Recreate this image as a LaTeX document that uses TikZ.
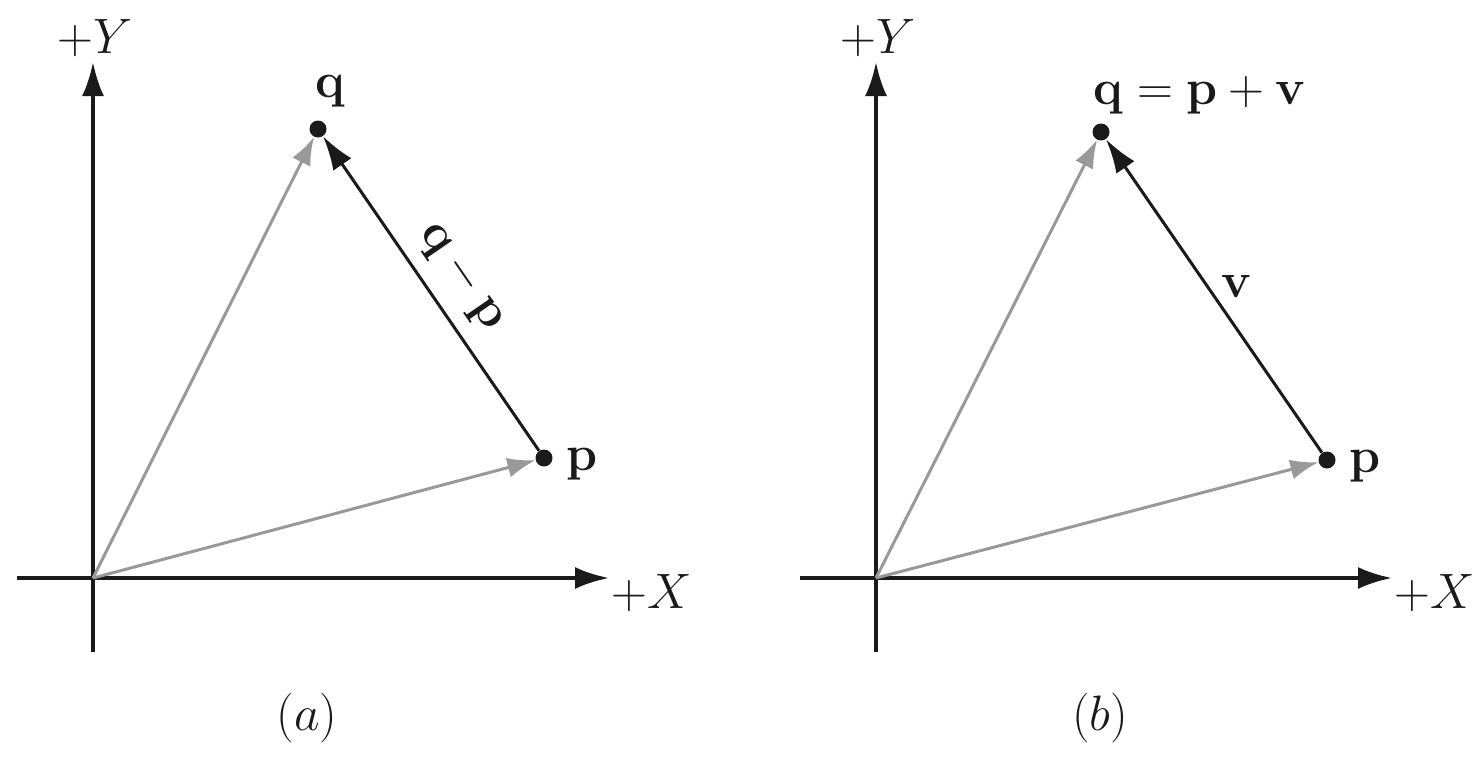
\documentclass[tikz,border=0pt]{standalone}
\usepackage{amsmath}
\usetikzlibrary{arrows.meta}
\definecolor{ink}{HTML}{1A1A1A}
\definecolor{vgray}{HTML}{999999}
\begin{document}
\begin{tikzpicture}[x=0.5pt,y=-0.5pt,
  axis/.style={draw=ink,line width=2pt,-{Latex[length=17pt,width=11pt]}},
  grayvec/.style={draw=vgray,line width=1.5pt,-{Latex[length=14pt,width=10pt]}},
  blackvec/.style={draw=ink,line width=1.5pt,-{Latex[length=17pt,width=11pt]}},
  pt/.style={circle,fill=ink,inner sep=0pt,minimum size=8.5pt},
  lbl/.style={text=ink,font=\fontsize{24}{28}\selectfont,inner sep=0pt},
  blbl/.style={text=ink,font=\fontsize{26}{30}\selectfont\bfseries,inner sep=0pt}]
\useasboundingbox (0,0) rectangle (1477,760);
% ---------- panel (a)
\coordinate (oa) at (93,578);
\coordinate (ya0) at (93,652);
\coordinate (ya1) at (93,62);
\coordinate (xa0) at (17,578);
\coordinate (xa1) at (609,578);
\draw[axis] (ya0) -- (ya1);
\draw[axis] (xa0) -- (xa1);
\node[pt] (pa) at (544,458) {};
\node[pt] (qa) at (318,129) {};
\draw[grayvec] (oa) -- (pa);
\draw[grayvec] (oa) -- (qa);
\draw[blackvec] (pa) -- (qa);
\node[lbl,anchor=base] (lya) at (95,53) {$+Y$};
\node[lbl,anchor=base west] (lxa) at (611,608) {$+X$};
\node[blbl,anchor=base] (lqa) at (330,97) {$\mathbf{q}$};
\node[blbl,anchor=base west] (lpa) at (566,470) {$\mathbf{p}$};
\node[blbl,rotate=-55.5] (lqpa) at (462,277) {$\mathbf{q}-\mathbf{p}$};
\node[lbl] (capa) at (307,718) {$(a)$};
% ---------- panel (b)
\coordinate (ob) at (876,578);
\coordinate (yb0) at (876,652);
\coordinate (yb1) at (876,62);
\coordinate (xb0) at (800,578);
\coordinate (xb1) at (1392,578);
\draw[axis] (yb0) -- (yb1);
\draw[axis] (xb0) -- (xb1);
\node[pt] (pb) at (1327,460) {};
\node[pt] (qb) at (1101,132) {};
\draw[grayvec] (ob) -- (pb);
\draw[grayvec] (ob) -- (qb);
\draw[blackvec] (pb) -- (qb);
\node[lbl,anchor=base] (lyb) at (878,53) {$+Y$};
\node[lbl,anchor=base west] (lxb) at (1394,608) {$+X$};
\node[blbl,anchor=base] (lqb) at (1200,104) {$\mathbf{q}=\mathbf{p}+\mathbf{v}$};
\node[blbl,anchor=base west] (lpb) at (1349,472) {$\mathbf{p}$};
\node[blbl] (lvb) at (1237,286) {$\mathbf{v}$};
\node[lbl] (capb) at (1100,718) {$(b)$};
\end{tikzpicture}
\end{document}
